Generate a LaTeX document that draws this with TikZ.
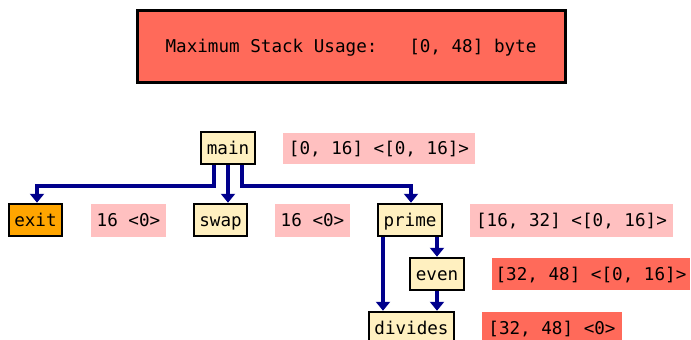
\documentclass[tikz,border=0pt]{standalone}
\usepackage{fontspec}
\setmonofont{DejaVu Sans Mono}
\usetikzlibrary{arrows.meta}
\definecolor{cream}{HTML}{FFF0C0}
\definecolor{orangebox}{HTML}{FFA500}
\definecolor{pinklab}{HTML}{FFC0C0}
\definecolor{redlab}{HTML}{FF6A5A}
\definecolor{arrowblue}{RGB}{0,0,140}
\tikzset{
  txt/.style={font=\ttfamily\fontsize{17.6pt}{20pt}\selectfont, text height=15pt, text depth=3pt},
  fn/.style={txt, draw=black, line width=2.5pt, fill=cream, inner sep=0pt, minimum height=32pt},
  lab/.style={txt, fill=pinklab, inner sep=0pt, minimum height=32pt},
  redl/.style={lab, fill=redlab},
  arr/.style={draw=arrowblue, line width=4pt, -{Triangle[width=14pt,length=9pt]}}
}
\begin{document}
\begin{tikzpicture}[x=1pt,y=-1pt]
\useasboundingbox (0,0) rectangle (691,340);
\clip (0,0) rectangle (691,340);
\node[txt, draw=black, line width=3pt, fill=redlab, minimum width=428pt, minimum height=72pt] (top) at (351,46) {Maximum Stack Usage:\ \ \ [0, 48] byte};

\node[fn, minimum width=54pt] (main) at (228,148) {main};
\node[lab, minimum width=192pt, minimum height=31pt] (lmain) at (379,148.5) {[0, 16] <[0, 16]>};

\node[fn, fill=orangebox, minimum width=53pt] (exit) at (35.5,220) {exit};
\node[lab, minimum width=75pt, minimum height=33pt] (lexit) at (128.5,220.5) {16 <0>};

\node[fn, minimum width=53pt] (swap) at (220.5,220) {swap};
\node[lab, minimum width=75pt, minimum height=33pt] (lswap) at (312.5,220.5) {16 <0>};

\node[fn, minimum width=64pt] (prime) at (410,220) {prime};
\node[lab, minimum width=203pt, minimum height=33pt] (lprime) at (571.5,220.5) {[16, 32] <[0, 16]>};

\node[fn, minimum width=54pt] (even) at (437,274) {even};
\node[redl, minimum width=198pt, minimum height=32pt] (leven) at (591,274) {[32, 48] <[0, 16]>};

\node[fn, minimum width=85pt] (divides) at (411.5,328) {divides};
\node[redl, minimum width=140pt, minimum height=33pt] (ldiv) at (552,328.5) {[32, 48] <0>};

\draw[arr] ([xshift=-14pt]main.south) -- ++(0,21) -| ([xshift=1.5pt]exit.north);
\draw[arr] (main.south) -- (main.south |- swap.north);
\draw[arr] ([xshift=14pt]main.south) -- ++(0,21) -| ([xshift=1pt]prime.north);
\draw[arr] ([xshift=-27pt]prime.south) -- ([xshift=-27pt]prime.south |- divides.north);
\draw[arr] (prime.south -| even.north) -- (even.north);
\draw[arr] (even.south) -- (even.south |- divides.north);
\end{tikzpicture}
\end{document}
